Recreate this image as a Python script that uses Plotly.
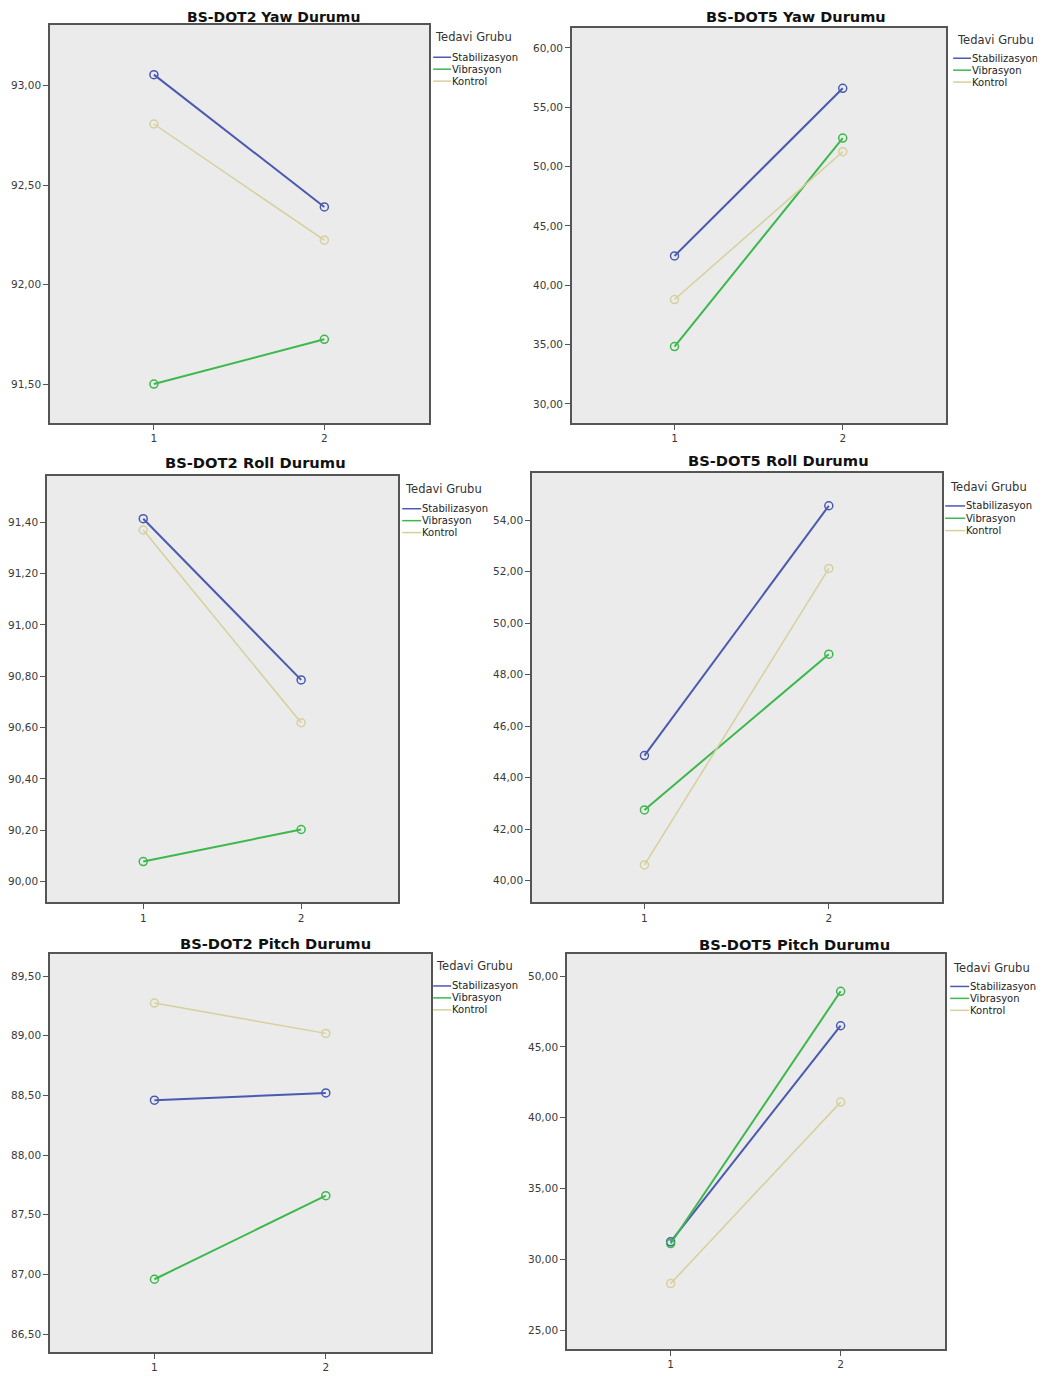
import plotly.graph_objects as go

# ---- data ----
time_points = [1, 2]
groups = ["Stabilizasyon", "Vibrasyon", "Kontrol"]
legend_title = "Tedavi Grubu"
titles = ["BS-DOT2 Yaw Durumu", "BS-DOT5 Yaw Durumu",
          "BS-DOT2 Roll Durumu", "BS-DOT5 Roll Durumu",
          "BS-DOT2 Pitch Durumu", "BS-DOT5 Pitch Durumu"]

dot2_yaw_stab = [93.055, 92.39]
dot2_yaw_vib = [91.50, 91.725]
dot2_yaw_kont = [92.807, 92.223]

dot5_yaw_stab = [42.47, 56.59]
dot5_yaw_vib = [34.84, 52.40]
dot5_yaw_kont = [38.80, 51.25]

dot2_roll_stab = [91.414, 90.786]
dot2_roll_vib = [90.078, 90.203]
dot2_roll_kont = [91.370, 90.619]

dot5_roll_stab = [44.855, 54.567]
dot5_roll_vib = [42.743, 48.797]
dot5_roll_kont = [40.605, 52.132]

dot2_pitch_stab = [88.46, 88.521]
dot2_pitch_vib = [86.96, 87.66]
dot2_pitch_kont = [89.274, 89.020]

dot5_pitch_stab = [31.24, 46.49]
dot5_pitch_vib = [31.12, 48.92]
dot5_pitch_kont = [28.29, 41.10]

panel_series = [
    [dot2_yaw_stab, dot2_yaw_vib, dot2_yaw_kont],
    [dot5_yaw_stab, dot5_yaw_vib, dot5_yaw_kont],
    [dot2_roll_stab, dot2_roll_vib, dot2_roll_kont],
    [dot5_roll_stab, dot5_roll_vib, dot5_roll_kont],
    [dot2_pitch_stab, dot2_pitch_vib, dot2_pitch_kont],
    [dot5_pitch_stab, dot5_pitch_vib, dot5_pitch_kont],
]
y_ranges = [[91.305, 93.305], [28.41, 61.68], [89.919, 91.582],
            [39.149, 55.856], [86.35, 89.684], [23.67, 51.545]]
y_dticks = [0.5, 5, 0.2, 2, 0.5, 5]

# ---- styling / layout ----
PAGE_OFF = 8                      # default body margin of the html page
W, H = 1045 - 2 * PAGE_OFF, 1381 - 2 * PAGE_OFF
colors = ["#4a5ab0", "#3cb84c", "#d6d09c"]
widths = [2, 2, 1.5]
# plot boxes in page px: left, right, top, bottom
boxes = [(48, 428, 25, 425), (571, 946, 28, 425),
         (45, 397, 478, 907), (531, 942, 475, 907),
         (48, 430, 959, 1359), (566, 945, 959, 1356)]
title_pos = [(272, 16.6), (796, 17.5), (254, 465), (778, 463), (274, 948), (794, 949)]
title_sizes = [14, 14.5, 14.7, 14.7, 14.7, 14.7]
# legend geometry in page px: title x, title y, line x0, line x1, text x, first item y, item step
legend_geo = [(432, 37, 432, 450, 451, 57.5, 12),
              (955, 40, 953, 971, 972, 58.5, 12),
              (402, 491, 401, 420, 421, 511.3, 12),
              (948, 489, 945, 965, 966, 508.5, 12.4),
              (433, 971, 432, 450, 451, 991, 12),
              (951, 973, 950, 969, 970, 991.5, 12)]


def px(x):
    return (x - PAGE_OFF) / W


def py(y):
    return 1 - (y - PAGE_OFF) / H


font_fam = "DejaVu Sans"
fig = go.Figure()
layout = dict(width=W, height=H, margin=dict(l=0, r=0, t=0, b=0),
              paper_bgcolor="white", plot_bgcolor="#ebebeb",
              separators=", ", showlegend=False,
              font=dict(family=font_fam, color="#333333"))
annotations = []
shapes = []

for i in range(6):
    k = "" if i == 0 else str(i + 1)
    xa, ya = "x" + k, "y" + k
    for g, name in enumerate(groups):
        fig.add_trace(go.Scatter(
            x=time_points, y=panel_series[i][g], xaxis=xa, yaxis=ya,
            mode="lines+markers", name=name,
            line=dict(color=colors[g], width=widths[g]),
            marker=dict(symbol="circle-open", size=8, color=colors[g],
                        line=dict(width=1.5, color=colors[g]))))
    l, r, t, b = boxes[i]
    axis_common = dict(ticks="outside", ticklen=5, tickwidth=1, tickcolor="#555",
                       showline=True, linecolor="#555", linewidth=1.5, mirror=True,
                       showgrid=False, zeroline=False,
                       tickfont=dict(size=10.5, color="#3a3a3a", family=font_fam))
    layout["xaxis" + k] = dict(domain=[px(l), px(r)], anchor=ya, range=[0.39, 2.615],
                               tickvals=time_points,
                               ticktext=[str(v) for v in time_points], **axis_common)
    layout["yaxis" + k] = dict(domain=[py(b), py(t)], anchor=xa, range=y_ranges[i],
                               dtick=y_dticks[i], tick0=0, tickformat=".2f", **axis_common)
    tx, ty = title_pos[i]
    annotations.append(dict(text="<b>" + titles[i] + "</b>", x=px(tx), y=py(ty),
                            xref="paper", yref="paper", showarrow=False,
                            xanchor="center", yanchor="middle", borderpad=0,
                            font=dict(size=title_sizes[i], color="#111", family=font_fam)))
    # legend (drawn as text + short line samples)
    lx, lyt, lx0, lx1, ltx, ly0, ldy = legend_geo[i]
    annotations.append(dict(text=legend_title, x=px(lx), y=py(lyt), xref="paper", yref="paper",
                            showarrow=False, xanchor="left", yanchor="middle",
                            font=dict(size=11.5, color="#333", family=font_fam)))
    for g, name in enumerate(groups):
        yy = ly0 + g * ldy
        shapes.append(dict(type="line", xref="paper", yref="paper",
                           x0=px(lx0), x1=px(lx1), y0=py(yy), y1=py(yy),
                           line=dict(color=colors[g], width=1.5)))
        annotations.append(dict(text=name, x=px(ltx), y=py(yy), xref="paper", yref="paper",
                                showarrow=False, xanchor="left", yanchor="middle",
                                xshift=-2,
                                font=dict(size=10, color="#222", family=font_fam)))

layout["annotations"] = annotations
layout["shapes"] = shapes
fig.update_layout(**layout)
fig.write_html("out.html")
